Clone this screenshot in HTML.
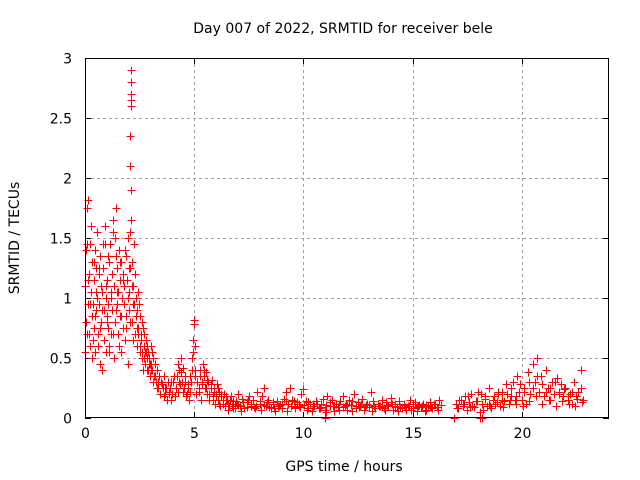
<!DOCTYPE html>
<html><head><meta charset="utf-8"><style>
body{margin:0;background:#fff;}
svg{display:block;font-family:"DejaVu Sans","Liberation Sans",sans-serif;font-size:14px;}
</style></head><body>
<svg id="chart" width="640" height="480" xmlns="http://www.w3.org/2000/svg">
<text x="343" y="33" text-anchor="middle">Day 007 of 2022, SRMTID for receiver bele</text>
<text x="344" y="471" text-anchor="middle">GPS time / hours</text>
<text transform="translate(19,238) rotate(-90)" text-anchor="middle">SRMTID / TECUs</text>
<g id="grid"></g>
<g id="ticks"></g>
<g id="points"></g>
<rect x="85.5" y="58.5" width="523" height="359" fill="none" stroke="#000" stroke-width="1"/>
</svg>
<script>
const xTicks=[0,5,10,15,20];
const yTicks=[0,0.5,1,1.5,2,2.5,3];
const yTickLabels=["0","0.5","1","1.5","2","2.5","3"];
const hours=[0.00,0.02,0.05,0.07,0.10,0.12,0.15,0.17,0.20,0.22,0.25,0.27,0.30,0.32,0.35,0.37,0.40,0.42,0.45,0.47,0.50,0.52,0.55,0.57,0.60,0.62,0.65,0.67,0.70,0.72,0.75,0.77,0.80,0.82,0.85,0.87,0.90,0.92,0.95,0.97,1.00,1.02,1.05,1.07,1.10,1.12,1.15,1.17,1.20,1.22,1.25,1.27,1.30,1.32,1.35,1.37,1.40,1.42,1.45,1.47,1.50,1.52,1.55,1.57,1.60,1.62,1.65,1.67,1.70,1.72,1.75,1.77,1.80,1.82,1.85,1.87,1.90,1.92,1.95,1.97,2.00,2.02,2.05,2.07,2.10,2.10,2.10,2.10,2.10,2.08,2.08,2.12,2.12,2.15,2.17,2.20,2.22,2.25,2.27,2.30,2.32,2.35,2.37,2.40,2.42,2.45,2.47,2.50,2.52,2.55,2.57,2.60,2.62,2.65,2.67,2.70,2.72,2.75,2.77,2.80,2.82,2.85,2.87,2.90,2.92,2.95,2.97,3.00,3.02,3.05,3.07,3.10,3.15,3.20,3.25,3.30,3.35,3.40,3.45,3.50,3.55,3.60,3.65,3.70,3.75,3.80,3.85,3.90,3.95,4.00,4.05,4.10,4.15,4.20,4.25,4.30,4.35,4.40,4.45,4.50,4.55,4.60,4.65,4.70,4.75,4.80,4.85,4.90,4.95,5.00,5.00,5.02,5.05,5.10,5.15,5.20,5.25,5.30,5.35,5.40,5.45,5.50,5.55,5.60,5.65,5.70,5.75,5.80,5.85,5.90,5.95,6.00,6.05,6.10,6.15,6.20,6.25,6.30,6.35,6.40,6.45,
6.5,6.6,6.7,6.8,6.9,7.0,7.1,7.2,7.3,7.4,7.5,7.6,7.7,7.8,7.9,8.0,8.1,8.2,8.3,8.4,8.5,8.6,8.7,8.8,8.9,9.0,9.1,9.2,9.3,9.4,9.5,9.6,9.7,9.8,9.9,10.0,10.1,10.2,10.3,10.4,10.5,10.6,10.7,10.8,10.9,11.0,11.1,11.2,11.3,11.4,11.5,11.6,11.7,11.8,11.9,12.0,12.1,12.2,12.3,12.4,12.5,12.6,12.7,12.8,12.9,13.0,13.1,13.2,13.3,13.4,13.5,13.6,13.7,13.8,13.9,14.0,14.1,14.2,14.3,14.4,14.5,14.6,14.7,14.8,14.9,15.0,15.1,15.2,15.3,15.4,15.5,15.6,15.7,15.8,15.9,16.0,16.1,16.2,16.3,
6.55,6.85,7.15,7.45,7.75,8.05,8.35,8.65,8.95,9.25,9.55,9.85,10.15,10.45,10.75,11.05,11.35,11.65,11.95,12.25,12.55,12.85,13.15,13.45,13.75,14.05,14.35,14.65,14.95,15.25,15.55,15.85,16.15,11.0,16.9,
17.0,17.1,17.2,17.3,17.4,17.5,17.6,17.7,17.8,17.9,18.0,18.1,18.2,18.3,18.4,18.5,18.6,18.7,18.8,18.9,19.0,19.1,19.2,19.3,19.4,19.5,19.6,19.7,19.8,19.9,20.0,20.1,20.2,20.3,20.4,20.5,20.6,20.7,20.8,20.9,21.0,21.1,21.2,21.3,21.4,21.5,21.6,21.7,21.8,21.9,22.0,22.1,22.2,22.3,22.4,22.5,22.6,22.7,22.8,
17.05,17.35,17.65,17.95,18.25,18.55,18.85,19.15,19.45,19.75,20.05,20.35,20.65,20.95,21.25,21.55,21.85,22.15,22.45,22.75,18.1,18.2,
0.04,0.10,0.16,0.22,0.28,0.34,0.40,0.46,0.52,0.58,0.64,0.70,0.76,0.82,0.88,0.94,1.00,1.06,1.12,1.18,1.24,1.30,1.36,1.42,1.48,1.54,1.60,1.66,1.72,1.78,1.84,1.90,1.96,2.02,2.08,2.14,2.20,2.26,2.32,2.38,2.44,2.50,2.56,2.62,2.68,2.74,2.80,2.86,2.92,2.98,
3.04,3.12,3.20,3.28,3.36,3.44,3.52,3.60,3.68,3.76,3.84,3.92,4.00,4.08,4.16,4.24,4.32,4.40,4.48,4.56,4.64,4.72,4.80,4.88,4.96,5.04,5.12,5.20,5.28,5.36,5.44,5.52,5.60,5.68,5.76,5.84,5.92,6.00,6.08,6.16,6.24,6.32,6.40,6.48,6.56,6.64,6.72,6.80,6.88,6.96,
7.02,7.22,7.42,7.62,7.82,8.02,8.22,8.42,8.62,8.82,9.02,9.22,9.42,9.62,9.82,10.02,10.22,10.42,10.62,10.82,11.02,11.22,11.42,11.62,11.82,12.02,12.22,12.42,12.62,12.82,13.02,13.22,13.42,13.62,13.82,14.02,14.22,14.42,14.62,14.82,15.02,15.22,15.42,15.62,15.82,16.02,
17.12,17.32,17.52,17.72,17.92,18.12,18.32,18.52,18.72,18.92,19.12,19.32,19.52,19.72,19.92,20.12,20.32,20.52,20.72,20.92,21.12,21.32,21.52,21.72,21.92,22.12,22.32,22.52,22.72];
const values=[0.55,1.10,0.80,1.45,1.75,0.95,1.82,1.20,0.70,1.45,0.60,1.05,0.85,1.30,0.65,0.95,1.15,0.75,1.40,0.55,1.25,0.90,1.55,1.00,0.70,1.20,0.95,1.35,0.45,1.10,0.80,0.40,1.05,1.25,0.65,0.90,1.45,1.60,1.00,0.55,0.85,1.15,0.75,0.95,1.30,0.60,1.45,1.05,0.70,1.20,0.90,1.65,1.55,0.50,1.10,0.80,1.35,1.75,0.95,1.25,0.70,1.05,0.60,1.40,1.15,0.85,1.30,0.55,1.00,1.20,0.75,1.10,0.95,1.40,0.65,1.35,0.85,1.15,1.50,0.45,1.05,0.90,1.55,1.25,2.90,2.80,2.70,2.65,2.60,2.35,2.10,1.90,1.65,1.30,0.80,1.10,0.95,1.45,0.70,1.20,0.85,1.00,0.60,0.90,1.05,0.75,0.95,0.55,0.85,0.70,0.65,0.80,0.50,0.75,0.40,0.60,0.70,0.55,0.45,0.65,0.50,0.60,0.40,0.55,0.45,0.50,0.35,0.60,0.45,0.55,0.40,0.50,0.35,0.45,0.30,0.40,0.25,0.35,0.20,0.30,0.25,0.35,0.20,0.25,0.15,0.30,0.20,0.25,0.15,0.20,0.30,0.18,0.25,0.35,0.22,0.40,0.28,0.50,0.30,0.42,0.25,0.35,0.20,0.28,0.15,0.22,0.30,0.40,0.55,0.78,0.82,0.60,0.35,0.20,0.30,0.25,0.40,0.15,0.30,0.45,0.35,0.25,0.38,0.20,0.30,0.15,0.25,0.32,0.18,0.25,0.12,0.20,0.28,0.15,0.22,0.10,0.18,0.12,0.20,0.10,0.15,
0.15,0.10,0.18,0.08,0.14,0.20,0.10,0.16,0.08,0.13,0.18,0.10,0.15,0.08,0.22,0.12,0.18,0.25,0.10,0.15,0.08,0.12,0.06,0.14,0.10,0.08,0.16,0.22,0.12,0.25,0.15,0.08,0.13,0.10,0.20,0.24,0.14,0.08,0.12,0.06,0.10,0.14,0.08,0.12,0.16,0.07,0.18,0.10,0.15,0.06,0.12,0.09,0.14,0.18,0.10,0.07,0.15,0.11,0.20,0.08,0.13,0.10,0.16,0.07,0.12,0.09,0.22,0.14,0.08,0.12,0.10,0.15,0.08,0.13,0.10,0.17,0.07,0.12,0.09,0.14,0.08,0.12,0.07,0.10,0.15,0.08,0.13,0.06,0.11,0.09,0.12,0.07,0.10,0.13,0.08,0.12,0.09,0.15,0.11,
0.07,0.12,0.06,0.15,0.09,0.07,0.13,0.08,0.11,0.06,0.14,0.09,0.07,0.12,0.08,0.05,0.10,0.07,0.12,0.06,0.09,0.11,0.06,0.10,0.07,0.12,0.06,0.09,0.07,0.10,0.06,0.09,0.07,0.0,0.0,
0.12,0.08,0.15,0.10,0.18,0.07,0.13,0.20,0.09,0.14,0.22,0.05,0.12,0.18,0.10,0.25,0.08,0.15,0.12,0.20,0.10,0.22,0.14,0.28,0.12,0.18,0.30,0.15,0.35,0.22,0.15,0.25,0.12,0.38,0.20,0.45,0.30,0.50,0.22,0.35,0.18,0.40,0.25,0.15,0.30,0.20,0.33,0.22,0.28,0.18,0.25,0.15,0.20,0.12,0.30,0.18,0.22,0.40,0.15,
0.08,0.12,0.09,0.14,0.07,0.10,0.13,0.09,0.15,0.12,0.10,0.14,0.18,0.12,0.15,0.10,0.14,0.12,0.10,0.13,0.0,0.0,
1.40,0.70,1.15,0.95,1.60,0.50,1.30,0.85,1.05,0.60,1.25,0.75,0.90,1.45,0.65,1.10,0.80,1.35,0.55,1.00,1.20,0.70,1.50,0.90,1.05,0.60,1.30,0.85,1.15,0.95,1.40,0.75,1.00,1.25,0.80,1.10,0.65,0.95,0.85,0.75,0.70,0.60,0.65,0.55,0.50,0.45,0.55,0.40,0.50,0.45,
0.40,0.30,0.35,0.25,0.30,0.20,0.28,0.18,0.25,0.15,0.22,0.30,0.20,0.35,0.25,0.45,0.30,0.38,0.22,0.30,0.18,0.25,0.35,0.50,0.65,0.40,0.30,0.22,0.35,0.28,0.40,0.25,0.32,0.20,0.28,0.15,0.22,0.18,0.25,0.12,0.20,0.15,0.10,0.18,0.12,0.15,0.10,0.14,0.08,0.12,
0.11,0.13,0.09,0.12,0.10,0.14,0.11,0.09,0.13,0.10,0.12,0.14,0.10,0.09,0.12,0.11,0.13,0.10,0.12,0.09,0.11,0.13,0.10,0.12,0.09,0.11,0.14,0.10,0.12,0.09,0.11,0.10,0.12,0.09,0.11,0.13,0.10,0.09,0.11,0.10,0.12,0.09,0.10,0.11,0.09,0.12,
0.15,0.12,0.18,0.10,0.14,0.20,0.16,0.12,0.18,0.22,0.15,0.20,0.25,0.18,0.28,0.22,0.30,0.25,0.35,0.28,0.22,0.25,0.30,0.20,0.24,0.18,0.22,0.16,0.25];
const X0=85,X1=609,Y0=418,Y1=58,XMAX=24,YMAX=3;
function xs(h){return X0+(X1-X0)*h/XMAX;}
function ys(v){return Y0-(Y0-Y1)*v/YMAX;}
const NS="http://www.w3.org/2000/svg";
const grid=document.getElementById('grid'),ticks=document.getElementById('ticks'),pts=document.getElementById('points');
xTicks.forEach(t=>{
  const x=Math.round(xs(t))+0.5;
  if(t>0){const g=document.createElementNS(NS,'line');
  
  
  g.setAttribute('x1',x);g.setAttribute('x2',x);g.setAttribute('y1',Y1);g.setAttribute('y2',Y0);
  g.setAttribute('stroke','#a0a0a0');g.setAttribute('stroke-dasharray','3,3');grid.appendChild(g);}
  const tk=document.createElementNS(NS,'path');
  
  
  tk.setAttribute('d',`M${x},${Y0}v-6M${x},${Y1}v6`);tk.setAttribute('stroke','#000');ticks.appendChild(tk);
  const tl=document.createElementNS(NS,'text');
  
  
  tl.setAttribute('x',x);tl.setAttribute('y',Y0+20);tl.setAttribute('text-anchor','middle');tl.textContent=String(t);ticks.appendChild(tl);
});
yTicks.forEach((t,i)=>{
  const y=Math.round(ys(t))+0.5;
  if(t>0&&t<YMAX){const g=document.createElementNS(NS,'line');
  
  
  g.setAttribute('x1',X0);g.setAttribute('x2',X1);g.setAttribute('y1',y);g.setAttribute('y2',y);
  g.setAttribute('stroke','#a0a0a0');g.setAttribute('stroke-dasharray','3,3');grid.appendChild(g);}
  const tk=document.createElementNS(NS,'path');
  
  
  tk.setAttribute('d',`M${X0},${y}h6M${X1},${y}h-6`);tk.setAttribute('stroke','#000');ticks.appendChild(tk);
  const tl=document.createElementNS(NS,'text');
  
  
  tl.setAttribute('x',X0-13);tl.setAttribute('y',y+5);tl.setAttribute('text-anchor','end');tl.textContent=yTickLabels[i];ticks.appendChild(tl);
});
let d='';
hours.forEach((h,i)=>{const x=Math.round(xs(h))+0.5,y=Math.round(ys(values[i]))+0.5;d+=`M${x-4},${y}h8M${x},${y-4}v8`;});
const p=document.createElementNS(NS,'path');


p.setAttribute('d',d);p.setAttribute('stroke','#ff0000');p.setAttribute('stroke-width','1.3');p.setAttribute('fill','none');
p.setAttribute('shape-rendering','crispEdges');
pts.appendChild(p);
</script>
</body></html>
